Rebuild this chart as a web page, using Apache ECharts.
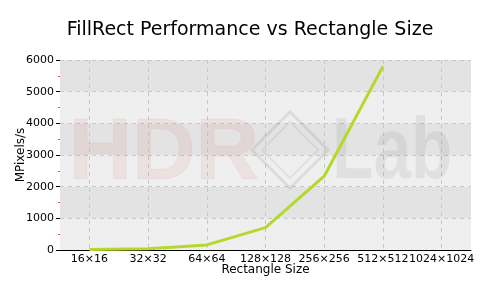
<!DOCTYPE html>
<html><head><meta charset="utf-8">
<script src="https://cdn.jsdelivr.net/npm/echarts@6/dist/echarts.min.js"></script>
<style>html,body{margin:0;padding:0;background:#fff}#c{width:500px;height:300px}</style>
</head><body><div id="c"></div>
<script>
var categories = ['16×16','32×32','64×64','128×128','256×256','512×512','1024×1024'];
var values = [15, 40, 160, 705, 2330, 5800, null];
var yTicks = [0, 1000, 2000, 3000, 4000, 5000, 6000];

var halfSteps = [];
for (var i = 0; i <= categories.length * 2; i++) halfSteps.push(String(i));

var chart = echarts.init(document.getElementById('c'), null, {renderer:'canvas'});
var font = 'DejaVu Sans';
chart.setOption({
  animation: false,
  backgroundColor: '#fff',
  title: {text: 'FillRect Performance vs Rectangle Size', left: 'center', top: 16,
    textStyle: {fontFamily: font, fontSize: 19, fontWeight: 'normal', color: '#000'}},
  grid: {left: 60, right: 29, top: 60, bottom: 50},
  graphic: [
    {type: 'text', z: 2, left: 68, top: 110, style: {text: 'HDR', font: 'bold 88px "Liberation Sans"', fill: 'rgba(220,110,110,0.10)', stroke: 'rgba(200,100,100,0.08)', lineWidth: 1}},
    {type: 'text', z: 2, x: 332, y: 110, scaleX: 0.77, style: {text: 'Lab', font: 'bold 88px "Liberation Sans"', fill: 'rgba(0,0,0,0.06)', verticalAlign: 'top'}},
    {type: 'rect', z: 2, rotation: Math.PI/4, originX: 290, originY: 150,
      shape: {x: 263, y: 123, width: 54, height: 54}, style: {fill: 'none', stroke: 'rgba(0,0,0,0.08)', lineWidth: 3}},
    {type: 'rect', z: 2, rotation: Math.PI/4, originX: 290, originY: 150,
      shape: {x: 270, y: 130, width: 40, height: 40}, style: {fill: 'none', stroke: 'rgba(0,0,0,0.06)', lineWidth: 2}}
  ],
  xAxis: [{
    type: 'category', data: categories, boundaryGap: true,
    name: 'Rectangle Size', nameLocation: 'middle', nameGap: 14, nameMoveOverlap: false,
    nameTextStyle: {fontFamily: font, fontSize: 12, color: '#000'},
    axisLine: {lineStyle: {color: '#000', width: 1}},
    axisTick: {alignWithLabel: true, length: 4, lineStyle: {color: '#000'}},
    axisLabel: {interval: 0, fontFamily: font, fontSize: 11, color: '#000', margin: 4},
    splitLine: {show: false}
  }, {
    type: 'category', data: halfSteps, boundaryGap: false, position: 'bottom',
    axisLine: {show: false}, axisTick: {show: false}, axisLabel: {show: false},
    splitLine: {show: true, interval: function(idx){ return idx % 2 === 1; },
      lineStyle: {color: '#c8c8c8', type: [4, 4]}}
  }],
  yAxis: {
    type: 'value', min: 0, max: 6000, interval: 1000,
    name: 'MPixels/s', nameLocation: 'middle', nameGap: 33, nameMoveOverlap: false,
    nameTextStyle: {fontFamily: font, fontSize: 12, color: '#000'},
    axisLine: {show: false},
    axisTick: {show: true, length: 4, lineStyle: {color: '#000'}},
    minorTick: {show: true, splitNumber: 2, length: 2, lineStyle: {color: '#ff4040'}},
    axisLabel: {fontFamily: font, fontSize: 11, color: '#000', margin: 6,
      formatter: function(v){ return yTicks.indexOf(v) >= 0 ? String(v) : ''; }},
    splitLine: {show: true, lineStyle: {color: '#c8c8c8', type: [4, 4]}},
    splitArea: {show: true, areaStyle: {color: ['#efefef', '#e3e3e3']}}
  },
  series: [{
    type: 'line', data: values, symbol: 'none', z: 5, xAxisIndex: 0,
    lineStyle: {color: '#b5d92a', width: 3}
  }]
});
</script></body></html>
